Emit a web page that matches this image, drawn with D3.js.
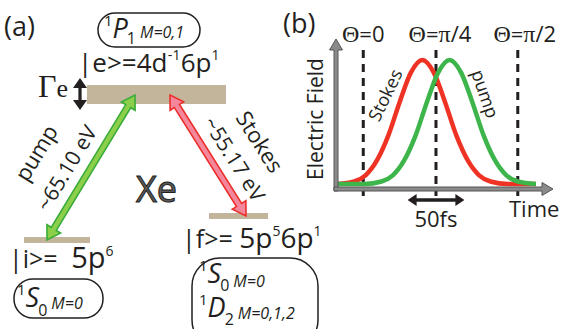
<!DOCTYPE html>
<html>
<head>
<meta charset="utf-8">
<script src="https://cdn.jsdelivr.net/npm/d3@7"></script>
<style>
body { margin: 0; background: #fff; }
svg { display: block; }
text { font-family: "Open Sans", Lato, sans-serif; fill: #231f20; }
.serif { font-family: "Liberation Serif", "DejaVu Serif", serif; }
</style>
</head>
<body>
<svg id="fig" width="561" height="329"></svg>
<script>
// ---- data: panel (a), energy levels of Xe
var levelNames = ["e", "i", "f"];
var levelKets = ["|e>=", "|i>=", "|f>="];
var levelConfigs = ["4d-1 6p1", "5p6", "5p5 6p1"];
var pumpEnergy = "~65.10 eV";
var stokesEnergy = "~55.17 eV";

// ---- data: panel (b), pulses vs time (fs), field normalised to 1
var timeDomain = [-88, 103];
var thetaLabels = ["Θ=0", "Θ=π/4", "Θ=π/2"];
var thetaTimes = [-64, 0, 72];
var pulseSpan = [-25, 25];
var pulseLabel = "50fs";
var stokesT = [-87, -72, -62, -52, -42, -32, -22, -12, -2, 8, 18, 28, 38, 48, 63, 88];
var stokesE = [0, 0.02, 0.07, 0.19, 0.39, 0.66, 0.9, 1, 0.9, 0.66, 0.39, 0.19, 0.07, 0.02, 0, 0];
var pumpT = [-87, -63, -48, -38, -28, -18, -8, 2, 12, 22, 32, 42, 52, 62, 72, 88];
var pumpE = [0, 0, 0.02, 0.07, 0.19, 0.39, 0.66, 0.9, 1, 0.9, 0.66, 0.39, 0.19, 0.07, 0.02, 0];

var svg = d3.select("#fig");

// double or single headed arrow as a polygon
function arrowPoly(x1, y1, x2, y2, w, h, L, both) {
  var dx = x2 - x1, dy = y2 - y1, len = Math.sqrt(dx*dx + dy*dy);
  var ux = dx/len, uy = dy/len, nx = -uy, ny = ux;
  var b2 = [x2 - ux*L, y2 - uy*L];
  var b1 = both ? [x1 + ux*L, y1 + uy*L] : [x1, y1];
  function p(b, s) { return [b[0] + nx*s, b[1] + ny*s]; }
  var pts = [p(b1, w), p(b2, w), p(b2, h), [x2, y2], p(b2, -h), p(b2, -w), p(b1, -w)];
  if (both) pts = pts.concat([p(b1, -h), [x1, y1], p(b1, h)]);
  return "M" + pts.map(function(q){ return q[0].toFixed(1) + "," + q[1].toFixed(1); }).join("L") + "Z";
}

// text made of runs: {t, size, off (baseline offset), it, dx, serif}
function runs(t, list) {
  var cur = 0;
  list.forEach(function(r) {
    var off = r.off || 0;
    var s = t.append("tspan").text(r.t).attr("dy", off - cur).style("font-size", r.size + "px");
    if (r.dx) s.attr("dx", r.dx);
    if (r.it) s.style("font-style", "italic");
    if (r.serif) s.attr("class", "serif");
    cur = off;
  });
  return t;
}

// ================= panel (a) =================
var ga = svg.append("g");
ga.append("text").attr("x", 4).attr("y", 36).style("font-size", "27px").text("(a)");

var bands = {
  e: {x: 87, y: 85, w: 139, h: 19},
  i: {x: 24, y: 237, w: 66, h: 6},
  f: {x: 209, y: 213, w: 59, h: 6}
};
ga.selectAll("rect.level").data(levelNames).enter().append("rect")
  .attr("class", "level")
  .attr("x", function(d){ return bands[d].x; })
  .attr("y", function(d){ return bands[d].y; })
  .attr("width", function(d){ return bands[d].w; })
  .attr("height", function(d){ return bands[d].h; })
  .attr("fill", "#c3b59c");

// level labels with superscripts
var ketPos = {e: [78, 72, 26, 0, 0], i: [9, 268, 25, 4, 7], f: [182, 248, 25, 3, 0]};
levelNames.forEach(function(d, k) {
  var fs = ketPos[d][2];
  var t = ga.append("text").attr("x", ketPos[d][0]).attr("y", ketPos[d][1]);
  var list = [{t: levelKets[k] + (d == "e" ? "" : " "), size: fs}];
  levelConfigs[k].split(" ").forEach(function(part, j) {
    var m = part.match(/^(\d[a-z])(-?\d)$/);
    list.push({t: m[1], size: fs + ketPos[d][3], dx: j == 0 ? ketPos[d][4] : 0});
    list.push({t: m[2].replace("-", "\u2011"), size: 14, off: -12});
  });
  runs(t, list);
});

// term boxes
function term(g, x, y, L, sub, M, subOff, mOff) {
  var t = g.append("text").attr("x", x).attr("y", y);
  runs(t, [
    {t: "1", size: 15, off: -12},
    {t: L, size: 27, it: true},
    {t: sub, size: 16, off: subOff, dx: -1},
    {t: M, size: 16, it: true, off: mOff, dx: 4}
  ]);
}
ga.append("rect").attr("x", 98).attr("y", 13).attr("width", 102).attr("height", 34).attr("rx", 17)
  .attr("fill", "none").attr("stroke", "#231f20").attr("stroke-width", 1.5);
term(ga, 104, 38, "P", "1", "M=0,1", 6, 0);
ga.append("rect").attr("x", 14).attr("y", 279).attr("width", 89).attr("height", 39).attr("rx", 19)
  .attr("fill", "none").attr("stroke", "#231f20").attr("stroke-width", 1.5);
term(ga, 17, 307, "S", "0", "M=0", 9, 2);
ga.append("rect").attr("x", 192).attr("y", 258).attr("width", 126).attr("height", 90).attr("rx", 28)
  .attr("fill", "none").attr("stroke", "#231f20").attr("stroke-width", 1.5);
term(ga, 199, 283, "S", "0", "M=0", 8, 4);
term(ga, 199, 317, "D", "2", "M=0,1,2", 8, 2);

// Gamma_e
runs(ga.append("text").attr("x", 38).attr("y", 97), [
  {t: "Γ", size: 32, serif: true}, {t: "e", size: 26, serif: true}
]);
ga.append("path").attr("d", arrowPoly(80, 78, 80, 110, 1.6, 7, 10, true)).attr("fill", "#231f20");

// transitions
ga.append("path").attr("d", arrowPoly(47, 240, 135, 95, 3, 8, 13, true))
  .attr("fill", "#8ccf4a").attr("stroke", "#3aac3a").attr("stroke-width", 1.6);
ga.append("path").attr("d", arrowPoly(170, 95, 246, 216, 3, 8, 13, true))
  .attr("fill", "#f5879c").attr("stroke", "#ec2f2a").attr("stroke-width", 1.6);

ga.append("text").attr("transform", "translate(43,157) rotate(-58.7)").attr("text-anchor", "middle")
  .style("font-size", "22px").text("pump");
ga.append("text").attr("transform", "translate(73,172) rotate(-58.7)").attr("text-anchor", "middle")
  .style("font-size", "21px").text(pumpEnergy);
ga.append("text").attr("transform", "translate(253,146) rotate(57.6)").attr("text-anchor", "middle")
  .style("font-size", "22px").text("Stokes");
ga.append("text").attr("transform", "translate(228,163) rotate(57.6)").attr("text-anchor", "middle")
  .style("font-size", "21px").text(stokesEnergy);

ga.append("text").attr("x", 136).attr("y", 202).style("font-size", "36px")
  .style("fill", "#5a5a5a").attr("stroke", "#231f20").attr("stroke-width", 1).text("Xe");

// ================= panel (b) =================
var gb = svg.append("g");
gb.append("text").attr("x", 283).attr("y", 33).style("font-size", "27px").text("(b)");

var x = d3.scaleLinear().domain(timeDomain).range([336, 553]);
var y = d3.scaleLinear().domain([0, 1]).range([184, 60]);
var y0 = 189;

// dashed Theta markers
gb.selectAll("line.theta").data(thetaTimes).enter().append("line")
  .attr("class", "theta")
  .attr("x1", function(d){ return x(d); }).attr("x2", function(d){ return x(d); })
  .attr("y1", 50).attr("y2", 196)
  .attr("stroke", "#231f20").attr("stroke-width", 3).attr("stroke-dasharray", "8,6");
gb.selectAll("text.theta").data(thetaLabels).enter().append("text")
  .attr("class", "theta")
  .attr("x", function(d, k){ return x(thetaTimes[k]) + [0, 4, 7][k]; })
  .attr("y", 42).attr("text-anchor", "middle")
  .each(function(d) {
    var t = d3.select(this);
    runs(t, d.split(/([Θπ])/).filter(function(s){ return s; }).map(function(s) {
      return /[Θπ]/.test(s) ? {t: s, size: 24, serif: true} : {t: s, size: 22};
    }));
  });

// pulses
var line = d3.line().curve(d3.curveMonotoneX)
  .x(function(d){ return x(d[0]); }).y(function(d){ return y(d[1]); });
gb.append("path").datum(d3.zip(stokesT, stokesE)).attr("d", line)
  .attr("fill", "none").attr("stroke", "#ee3324").attr("stroke-width", 4.5);
gb.append("path").datum(d3.zip(pumpT, pumpE)).attr("d", line)
  .attr("fill", "none").attr("stroke", "#3db54a").attr("stroke-width", 4.5);

gb.append("text").attr("transform", "translate(391,98) rotate(-64)").attr("text-anchor", "middle")
  .style("font-size", "18px").text("Stokes");
gb.append("text").attr("transform", "translate(479,96) rotate(71)").attr("text-anchor", "middle")
  .style("font-size", "18px").text("pump");

// axes as grey arrows
gb.append("path").attr("d", arrowPoly(x(timeDomain[0]), 191, x(timeDomain[0]), 39, 2, 6.5, 11, false))
  .attr("fill", "#8a8a8a").attr("stroke", "#555").attr("stroke-width", 1);
gb.append("path").attr("d", arrowPoly(x(timeDomain[0]) - 2, y0, x(timeDomain[1]), y0, 2, 6.5, 11, false))
  .attr("fill", "#8a8a8a").attr("stroke", "#555").attr("stroke-width", 1);

gb.append("text").attr("transform", "translate(323,119) rotate(-90)").attr("text-anchor", "middle")
  .style("font-size", "21px").text("Electric Field");
gb.append("text").attr("x", 509).attr("y", 217).style("font-size", "22px").text("Time");

// 50 fs arrow
gb.append("path").attr("d", arrowPoly(x(pulseSpan[0]), 200, x(pulseSpan[1]), 200, 1.8, 6, 9, true))
  .attr("fill", "#231f20");
gb.append("text").attr("x", x(0)).attr("y", 227).attr("text-anchor", "middle")
  .style("font-size", "22px").text(pulseLabel);
</script>
</body>
</html>
